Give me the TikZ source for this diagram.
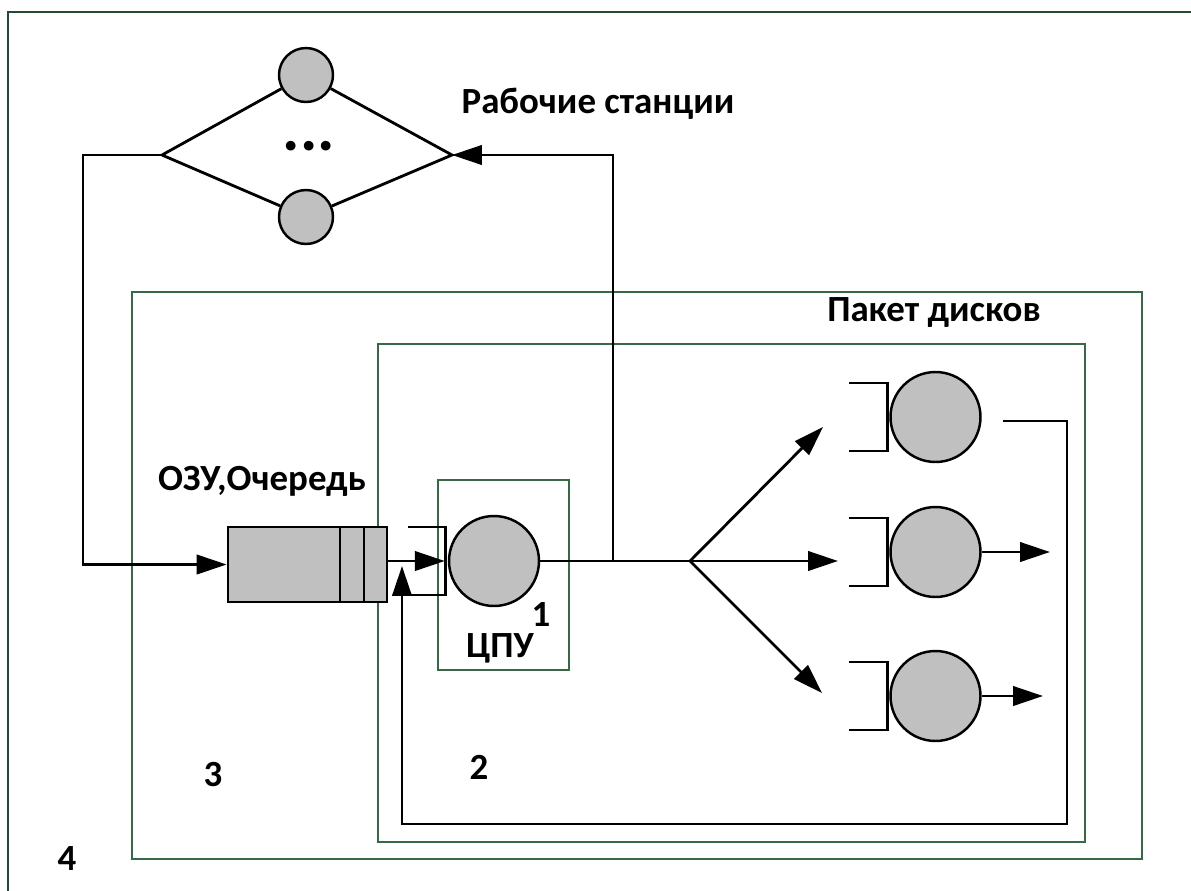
\documentclass[tikz,border=0pt]{standalone}
\usepackage{fontspec}
\setmainfont{Carlito}
\usepackage{xcolor}
\usepackage{tikz}
\usetikzlibrary{arrows.meta, positioning, calc}
\definecolor{framegreen}{RGB}{35, 75, 50}
\definecolor{boxgreen}{RGB}{55, 105, 70}
\definecolor{discgray}{RGB}{192, 192, 192}

\newcommand{\qbracket}[1]{%
  \draw[line] ($(#1.west)+(-40,-34)$) -- ++(38,0) -- ++(0,68) -- ++(-38,0);}

\begin{document}
\begin{tikzpicture}[
  x=0.02cm, y=-0.02cm,
  line/.style={line width=1.6pt, color=black},
  arrow/.style={line, -{Triangle[length=17pt, width=11pt]}},
  greenbox/.style={draw=boxgreen, line width=0.9pt},
  server/.style={circle, draw=black, line width=1.4pt, fill=discgray, inner sep=0pt, minimum size=1.8cm},
  station/.style={server, minimum size=1.08cm},
  queuebox/.style={draw=black, line width=1.6pt, fill=discgray, minimum width=3.18cm, minimum height=1.5cm, inner sep=0pt},
  lbl/.style={font=\fontsize{21}{24}\selectfont\bfseries, inner sep=0pt}
]
  \useasboundingbox (0,0) rectangle (1191,890);
  \draw[draw=framegreen, line width=1.6pt] (8,12) rectangle (1210,910);

  % Frames 4, 2, 1
  \draw[greenbox] (132,292) rectangle (1142,859);
  \draw[greenbox] (378,344) rectangle (1085,842);
  \draw[greenbox] (438,480) rectangle (569,670);

  % Workstations
  \node[station] (ws1) at (306,75) {};
  \node[station] (ws2) at (306,217) {};
  \coordinate (wsL) at (162,155);
  \coordinate (wsR) at (452,155);
  \node[font=\fontsize{37}{37}\selectfont\bfseries, inner sep=0pt] (dots) at (309,146) {...};
  \draw[line] (wsL) -- (ws1) -- (wsR) -- (ws2) -- (wsL);
  \node[lbl] (wslbl) at (598,104) {Рабочие станции};

  % Queue and CPU
  \node[queuebox] (queue) at (307.5,564.5) {};
  \draw[line] (340,527) -- (340,602);
  \draw[line] (364,527) -- (364,602);
  \node[server] (cpu) at (494,561) {};
  \qbracket{cpu}
  \draw[arrow] (queue.east |- cpu.west) -- ($(cpu.west)+(-3,0)$);
  \draw[arrow] (wsL) -- ++(-79,0) |- (queue.west);
  \node[lbl] (qlbl) at (262,481) {ОЗУ,Очередь};
  \node[lbl] (n1) at (541,615) {1};
  \node[lbl] (cpulbl) at (500,648) {ЦПУ};

  % Disks
  \node[server] (disk1) at (935.5,417) {};
  \node[server] (disk2) at (935.5,552) {};
  \node[server] (disk3) at (935.5,696) {};
  \qbracket{disk1}
  \qbracket{disk2}
  \qbracket{disk3}
  \node[lbl] (dlbl) at (934,313) {Пакет дисков};

  \coordinate (split) at (613,561);
  \coordinate (fork) at (690,561);
  \draw[line] (cpu.east) -- (fork);
  \draw[arrow] (split) |- (wsR);
  \coordinate (d1in) at (823,427);
  \coordinate (d2in) at (838,561);
  \coordinate (d3in) at (822,693);
  \draw[arrow] (fork) -- (d1in);
  \draw[arrow] (fork) -- (d2in);
  \draw[arrow] (fork) -- (d3in);

  % Disk exits and return path
  \coordinate (out2) at (1050,552);
  \coordinate (out3) at (1043,696);
  \draw[arrow] (disk2.east) -- (out2);
  \draw[arrow] (disk3.east) -- (out3);
  \coordinate (d1out) at (1003,421);
  \coordinate (retc) at (1067,824);
  \coordinate (qjoin) at (402,566);
  \draw[arrow] (d1out) -| (retc) -| (qjoin);

  % Frame numbers
  \node[lbl] (n2) at (479,767) {2};
  \node[lbl] (n3) at (213,775) {3};
  \node[lbl] (n4) at (67,859) {4};
\end{tikzpicture}
\end{document}
